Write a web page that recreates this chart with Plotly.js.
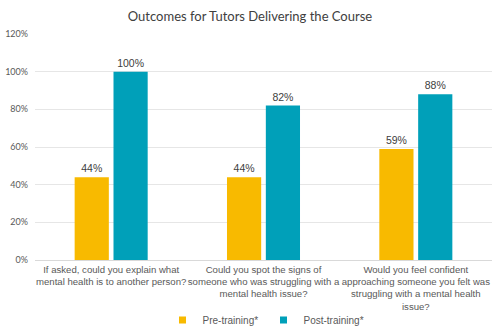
<!DOCTYPE html>
<html><head><meta charset="utf-8">
<script src="https://cdn.plot.ly/plotly-3.0.1.min.js"></script>
<style>html,body{margin:0;padding:0;background:#fff}#c{width:500px;height:333px}</style>
</head><body><div id="c"></div>
<script>
const categories = [
  "If asked, could you explain what<br>mental health is to another person?",
  "Could you spot the signs of<br>someone who was struggling with a<br>mental health issue?",
  "Would you feel confident<br>approaching someone you felt was<br>struggling with a mental health<br>issue?"
];
const preTraining = [0.44, 0.44, 0.59];
const postTraining = [1.00, 0.82, 0.88];
const seriesNames = ["Pre-training*", "Post-training*"];
const seriesColors = ["#F8BA00", "#00A0B9"];
const yTicks = [0, 0.2, 0.4, 0.6, 0.8, 1.0, 1.2];

const lblFont = {family: "Liberation Sans, Arial, sans-serif", size: 10.5, color: "#404040"};
const traces = [
  {type: "bar", x: categories, y: preTraining, name: seriesNames[0], showlegend: false,
   marker: {color: seriesColors[0]}, text: preTraining.map(v => Math.round(v*100) + "%"),
   textposition: "outside", textfont: lblFont, cliponaxis: false},
  {type: "bar", x: categories, y: postTraining, name: seriesNames[1], showlegend: false,
   marker: {color: seriesColors[1]}, text: postTraining.map(v => Math.round(v*100) + "%"),
   textposition: "outside", textfont: lblFont, cliponaxis: false},
  {type: "scatter", mode: "markers", x: [null], y: [null], name: seriesNames[0],
   marker: {symbol: "square", size: 7, color: seriesColors[0]}},
  {type: "scatter", mode: "markers", x: [null], y: [null], name: seriesNames[1],
   marker: {symbol: "square", size: 7, color: seriesColors[1]}}
];
const layout = {
  width: 500, height: 333,
  margin: {l: 35, r: 8, t: 34, b: 73, autoexpand: false},
  paper_bgcolor: "#fff", plot_bgcolor: "#fff",
  title: {text: "Outcomes for Tutors Delivering the Course", x: 0.5, xanchor: "center", y: 0.95, yanchor: "middle",
          font: {family: "Lato, sans-serif", size: 13, color: "#404040"}},
  barmode: "group", bargap: 0.49, bargroupgap: 0.12,
  xaxis: {tickfont: {family: "Liberation Sans, Arial, sans-serif", size: 9.6, color: "#595959"},
          tickangle: 0, showline: true, linecolor: "#d9d9d9", ticks: "", automargin: false},
  yaxis: {range: [0, 1.2], tickvals: yTicks, ticktext: yTicks.map(v => Math.round(v*100) + "%"),
          tickfont: {family: "Lato, sans-serif", size: 9, color: "#595959"}, ticklabelstandoff: 6,
          gridcolor: "#e6e6e6", zeroline: false, ticks: "", automargin: false},
  showlegend: true,
  legend: {orientation: "h", x: 0.5, xanchor: "center", y: -0.265, yanchor: "middle",
           font: {family: "Liberation Sans, Arial, sans-serif", size: 10, color: "#595959"},
           itemwidth: 30, entrywidth: 56, tracegroupgap: 0}
};
Plotly.newPlot("c", traces, layout, {displayModeBar: false, staticPlot: true});
</script></body></html>
